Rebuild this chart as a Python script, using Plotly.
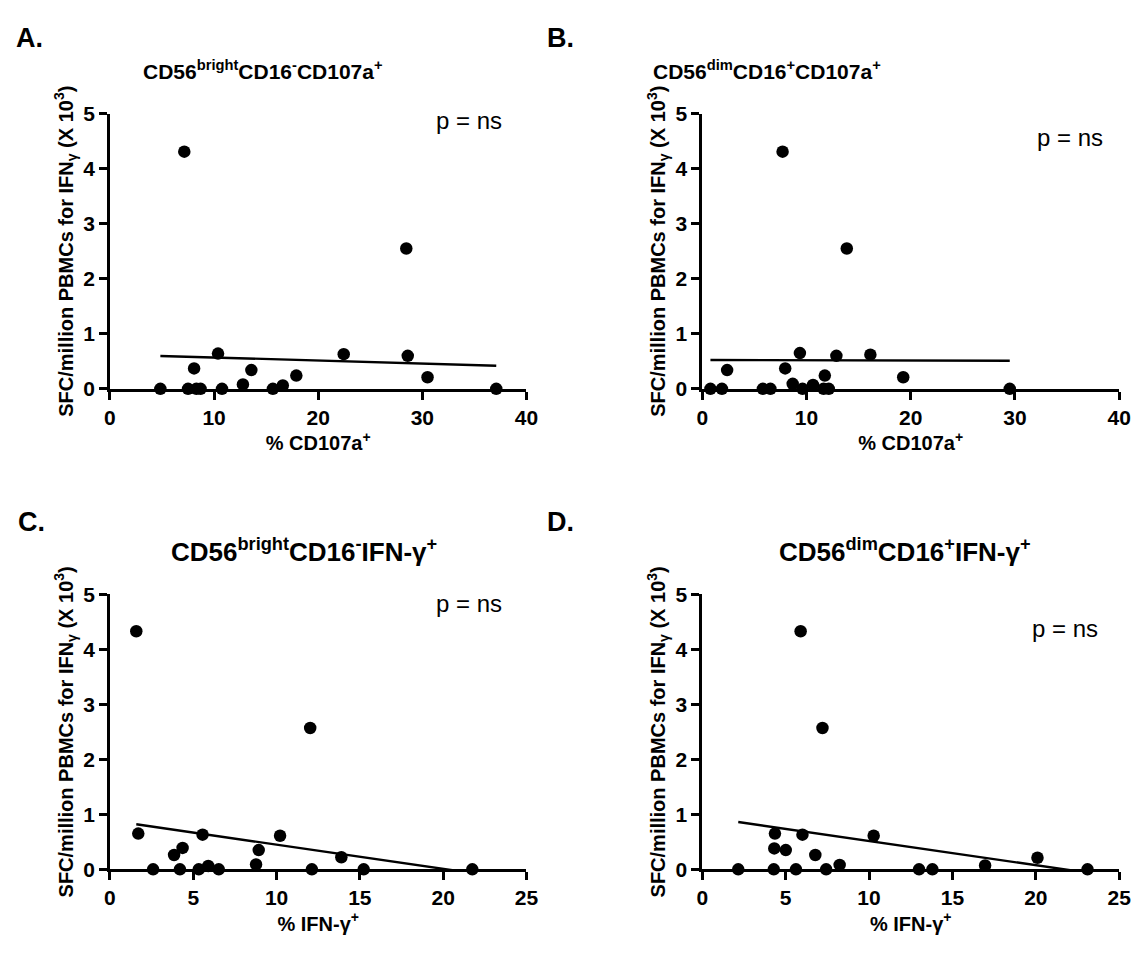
import plotly.graph_objects as go

# ---------------- data ----------------
# Panel A: % CD107a+ in CD56bright CD16- vs SFC/million PBMCs (x10^3)
a_x = [7.14, 28.46, 10.38, 22.45, 28.6, 8.08, 13.58, 17.9, 30.5, 12.77, 16.6,
       4.84, 7.5, 8.3, 8.7, 10.76, 15.65, 37.1]
a_y = [4.31, 2.55, 0.64, 0.63, 0.60, 0.37, 0.34, 0.24, 0.21, 0.08, 0.06,
       0, 0, 0, 0, 0, 0, 0]

# Panel B: % CD107a+ in CD56dim CD16+
b_x = [7.71, 13.87, 9.37, 12.87, 16.13, 7.96, 2.39, 11.76, 19.28, 8.68, 10.63,
       0.79, 1.89, 5.82, 6.54, 9.62, 11.64, 12.14, 29.5]
b_y = [4.31, 2.55, 0.65, 0.60, 0.62, 0.37, 0.34, 0.24, 0.21, 0.09, 0.07,
       0, 0, 0, 0, 0, 0, 0, 0]

# Panel C: % IFN-gamma+ in CD56bright CD16-
c_x = [1.58, 12.02, 1.70, 5.56, 10.21, 4.36, 3.85, 8.93, 13.89, 8.77, 5.9,
       2.59, 4.2, 5.33, 6.53, 12.12, 15.23, 21.75]
c_y = [4.33, 2.57, 0.65, 0.63, 0.61, 0.39, 0.26, 0.35, 0.22, 0.09, 0.06,
       0, 0, 0, 0, 0, 0, 0]

# Panel D: % IFN-gamma+ in CD56dim CD16+
d_x = [5.90, 7.21, 4.36, 6.01, 10.28, 4.32, 5.01, 6.78, 8.24, 20.1, 16.96,
       2.16, 4.29, 5.62, 7.43, 13.0, 13.8, 23.1]
d_y = [4.33, 2.57, 0.65, 0.63, 0.61, 0.38, 0.35, 0.26, 0.08, 0.21, 0.07,
       0, 0, 0, 0, 0, 0, 0]

# linear-regression lines as drawn in the picture (slope, intercept)
fit_slope = [-0.0055, -0.0005, -0.044, -0.044]
fit_intercept = [0.624, 0.525, 0.889, 0.955]

panel_letters = ["A.", "B.", "C.", "D."]
panel_titles = [
    "CD56<sup>bright</sup>CD16<sup>-</sup>CD107a<sup>+</sup>",
    "CD56<sup>dim</sup>CD16<sup>+</sup>CD107a<sup>+</sup>",
    "CD56<sup>bright</sup>CD16<sup>-</sup>IFN-γ<sup>+</sup>",
    "CD56<sup>dim</sup>CD16<sup>+</sup>IFN-γ<sup>+</sup>",
]
x_titles = ["% CD107a<sup>+</sup>", "% CD107a<sup>+</sup>",
            "% IFN-γ<sup>+</sup>", "% IFN-γ<sup>+</sup>"]
y_title = "SFC/million PBMCs for IFN<sub>γ</sub> (X 10<sup>3</sup>)"
p_text = "p = ns"
x_max = [40, 40, 25, 25]
x_dtick = [10, 10, 5, 5]
y_ticks = [0, 1, 2, 3, 4, 5]

# ---------------- layout geometry ----------------
# The page body has an 8 px margin, so the figure is drawn 8 px smaller
# and all page-pixel positions are shifted by that offset.
PAGE_W, PAGE_H = 1144, 954
OFF = 8
W, H = PAGE_W - OFF, PAGE_H - OFF
FONT = "Liberation Sans, Arial, sans-serif"
xdoms_px = [(105.5, 528.7), (707.3, 1131.0), (105.5, 528.7), (707.3, 1131.0)]
ydoms_px = [(104, 386), (104, 386), (596.7, 878.5), (596.7, 878.5)]


def px_x(p):
    return (p - OFF) / W


def px_y(p):
    return 1 - (p - OFF) / H


fig = go.Figure()
series = [(a_x, a_y), (b_x, b_y), (c_x, c_y), (d_x, d_y)]

for i, (xs, ys) in enumerate(series):
    n = i + 1
    xa = "x" if n == 1 else f"x{n}"
    ya = "y" if n == 1 else f"y{n}"
    lx = [min(xs), max(xs)]
    ly = [fit_slope[i] * v + fit_intercept[i] for v in lx]
    fig.add_trace(go.Scatter(x=lx, y=ly, mode="lines",
                             line=dict(color="black", width=2.4),
                             xaxis=xa, yaxis=ya, showlegend=False,
                             hoverinfo="skip"))
    fig.add_trace(go.Scatter(x=xs, y=ys, mode="markers",
                             marker=dict(color="black", size=12.5),
                             xaxis=xa, yaxis=ya, showlegend=False,
                             cliponaxis=False))

    xd = xdoms_px[i]
    yd = ydoms_px[i]
    axis_common = dict(showline=True, linecolor="black", linewidth=2.6,
                       ticks="outside", tickwidth=2.6, ticklen=8,
                       tickcolor="black", showgrid=False, zeroline=False,
                       ticklabeloverflow="allow",
                       tickfont=dict(family=FONT, size=21, color="black",
                                     weight="bold"))
    fig.layout[f"xaxis{'' if n == 1 else n}"] = dict(
        domain=[px_x(xd[0]), px_x(xd[1])], anchor=ya,
        range=[0, x_max[i]], tickmode="linear", tick0=0, dtick=x_dtick[i],
        title=dict(text=x_titles[i], standoff=4,
                   font=dict(family=FONT, size=20, color="black", weight="bold")),
        **axis_common)
    fig.layout[f"yaxis{'' if n == 1 else n}"] = dict(
        domain=[px_y(yd[1]), px_y(yd[0])], anchor=xa,
        range=[0, 5], tickvals=y_ticks,
        title=dict(text=y_title, standoff=5,
                   font=dict(family=FONT, size=20, color="black", weight="bold")),
        **axis_common)

# panel letters, titles, p-values (page pixel positions)
letter_pos = [(8, 26), (548, 26), (10, 523), (548, 523)]
title_pos = [(261, 59), (773, 59), (303, 552), (913, 552)]
title_size = [21, 21, 26, 26]
p_pos = [(435, 111), (1045, 128), (435, 606), (1040, 632)]
annots = []
for i in range(4):
    annots.append(dict(text=panel_letters[i], x=px_x(letter_pos[i][0]),
                       y=px_y(letter_pos[i][1]), xref="paper", yref="paper",
                       xanchor="left", yanchor="middle", showarrow=False,
                       font=dict(family=FONT, size=27, color="black",
                                 weight="bold")))
    annots.append(dict(text=panel_titles[i], x=px_x(title_pos[i][0]),
                       y=px_y(title_pos[i][1]), xref="paper", yref="paper",
                       xanchor="center", yanchor="middle", showarrow=False,
                       font=dict(family=FONT, size=title_size[i], color="black",
                                 weight="bold")))
    annots.append(dict(text=p_text, x=px_x(p_pos[i][0]),
                       y=px_y(p_pos[i][1]), xref="paper", yref="paper",
                       xanchor="left", yanchor="middle", showarrow=False,
                       font=dict(family=FONT, size=24, color="black")))

fig.update_layout(width=W, height=H, margin=dict(l=0, r=0, t=0, b=0),
                  paper_bgcolor="white", plot_bgcolor="white",
                  annotations=annots, showlegend=False)

fig.write_html("out.html")
